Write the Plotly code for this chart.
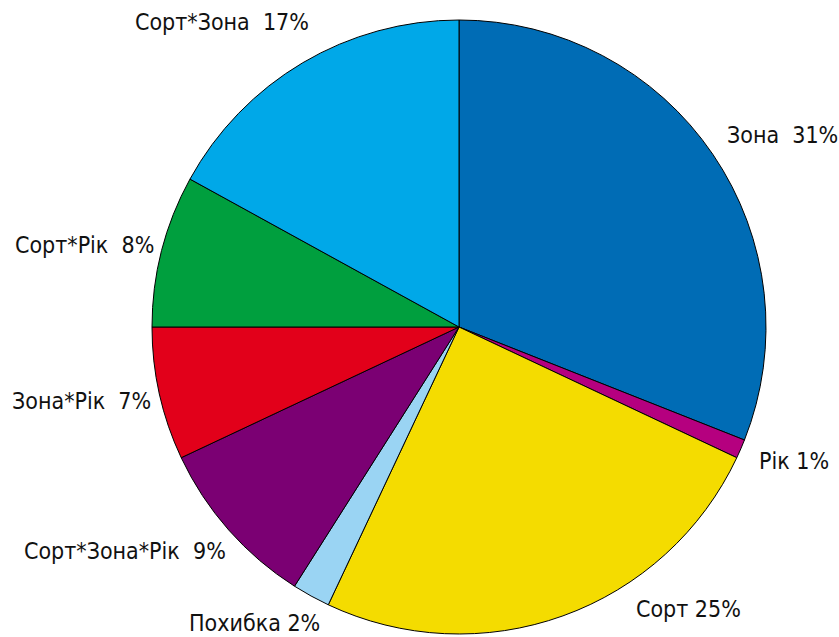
import plotly.graph_objects as go

# Variance components, clockwise from 12 o'clock
labels = ["Зона", "Рік", "Сорт", "Похибка", "Сорт*Зона*Рік", "Зона*Рік", "Сорт*Рік", "Сорт*Зона"]
shares = [31, 1, 25, 2, 9, 7, 8, 17]
colors = ["#006cb5", "#b5007f", "#f4dc00", "#9ad4f3", "#7b0073", "#e2001a", "#009f3e", "#00a8e8"]
# gap between name and percentage in each caption
gaps = [2, 1, 1, 1, 2, 2, 2, 2]
# caption anchor (left edge x, middle y) in pixels of the 839x637 canvas
label_px = [(725, 135), (757, 461), (634, 609), (187, 623), (22, 551), (10, 401), (13, 245), (133, 22)]

W, H = 839, 637
cx, cy, r = 459, 327, 307

fig = go.Figure(go.Pie(
    labels=labels,
    values=shares,
    sort=False,
    direction="clockwise",
    rotation=0,
    textinfo="none",
    hoverinfo="label+percent",
    marker=dict(colors=colors, line=dict(color="#000000", width=1)),
    domain=dict(x=[(cx - r) / W, (cx + r) / W], y=[(H - cy - r) / H, (H - cy + r) / H]),
    showlegend=False,
))

for name, v, g, (px, py) in zip(labels, shares, gaps, label_px):
    fig.add_annotation(
        text=name + "\u00a0" * g + f"{v}%",
        x=px / W, y=1 - py / H, xref="paper", yref="paper",
        xanchor="left", yanchor="middle", showarrow=False,
        font=dict(family="DejaVu Sans Condensed, sans-serif", size=23, color="#111111"),
    )

fig.update_layout(
    width=W, height=H,
    margin=dict(l=0, r=0, t=0, b=0),
    paper_bgcolor="white", plot_bgcolor="white",
)
fig.write_html("out.html")
